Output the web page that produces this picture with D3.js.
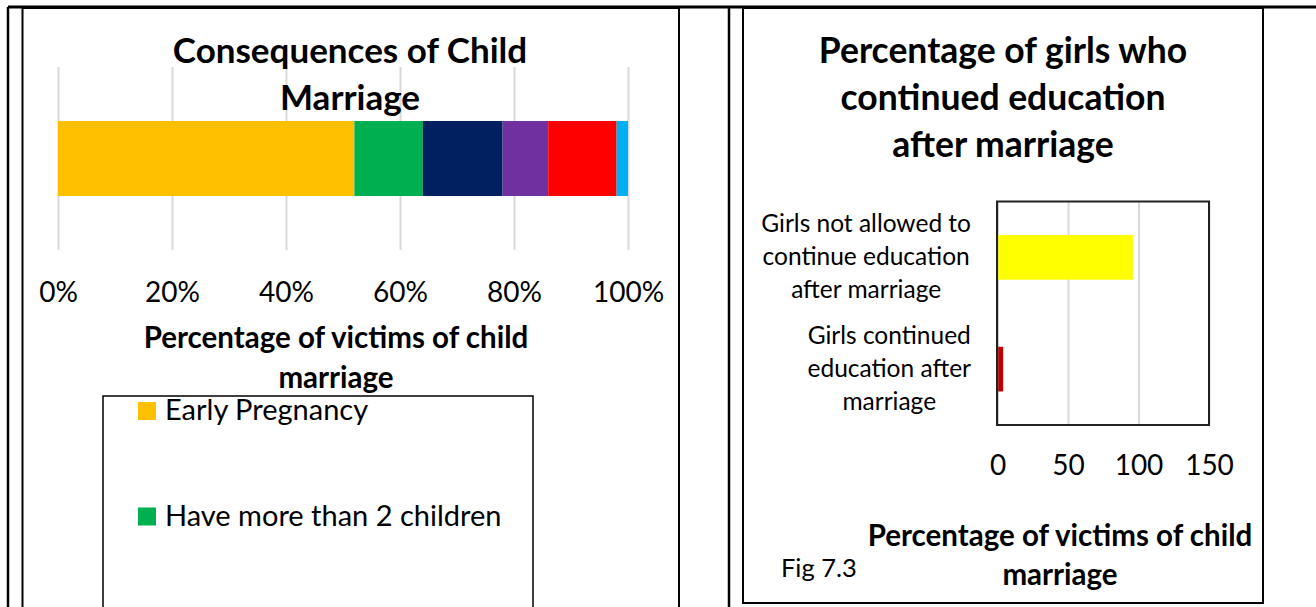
<!DOCTYPE html>
<html>
<head>
<meta charset="utf-8">
<script src="https://cdn.jsdelivr.net/npm/d3@7"></script>
<style>
  body { margin: 0; background: #fff; }
  svg { display: block; font-family: Lato, "Open Sans", sans-serif; }
</style>
</head>
<body>
<script>
// left chart: share of victims by consequence (stacked to 100%)
var consequenceNames = ["Early Pregnancy", "Have more than 2 children", null, null, null, null];
var consequenceShares = [52, 12, 14, 8, 12, 2];
var consequenceColors = ["#FFC000", "#00B050", "#002060", "#7030A0", "#FF0000", "#00B0F0"];
var pctTicks = [0, 0.2, 0.4, 0.6, 0.8, 1];

// right chart: girls continuing education after marriage
var eduCategories = [
  ["Girls not allowed to", "continue education", "after marriage"],
  ["Girls continued", "education after", "marriage"]
];
var eduValues = [96, 4];
var eduColors = ["#FFFF00", "#C00000"];
var eduTicks = [0, 50, 100, 150];

var W = 1316, H = 607;

var svg = d3.select("body").append("svg")
    .attr("width", W)
    .attr("height", H);

// ---- page frame / table lines ----
var frame = svg.append("g").attr("fill", "none").attr("stroke", "#000");
frame.append("line").attr("x1", 8).attr("x2", W).attr("y1", 7).attr("y2", 7).attr("stroke-width", 3);
frame.append("line").attr("x1", 8).attr("x2", 8).attr("y1", 7).attr("y2", H).attr("stroke-width", 2.5);
frame.append("line").attr("x1", 729).attr("x2", 729).attr("y1", 7).attr("y2", H).attr("stroke-width", 2.5);
frame.append("rect").attr("x", 22.5).attr("y", 8).attr("width", 656.5).attr("height", 700).attr("stroke-width", 2);
frame.append("rect").attr("x", 743).attr("y", 8).attr("width", 520).attr("height", 595).attr("stroke-width", 2);

// ================= LEFT CHART =================
var left = svg.append("g");

var xPct = d3.scaleLinear().domain([0, 1]).range([58, 628]);
var yOne = d3.scaleBand().domain(["all"]).range([67, 250]).paddingInner(0).paddingOuter(0.72);

var xAxisL = d3.axisBottom(xPct)
    .tickValues(pctTicks)
    .tickFormat(d3.format(".0%"))
    .tickSize(-183);

var gxl = left.append("g")
    .attr("transform", "translate(0,250)")
    .call(xAxisL);
gxl.select(".domain").remove();
gxl.selectAll(".tick line").attr("stroke", "#d9d9d9").attr("stroke-width", 2);
gxl.selectAll(".tick text")
    .attr("y", 52).attr("dy", 0)
    .attr("fill", "#000")
    .style("font-family", "Lato, sans-serif")
    .style("font-size", "28px");

// title drawn over the gridlines
left.selectAll(".title")
    .data(["Consequences of Child", "Marriage"])
  .enter().append("text")
    .attr("x", 350)
    .attr("y", function(d, i) { return 63 + i * 47; })
    .attr("text-anchor", "middle")
    .style("font-size", "35px")
    .style("font-weight", "bold")
    .text(function(d) { return d; });

// stacked segments
var stackRow = {};
consequenceShares.forEach(function(v, i) { stackRow["s" + i] = v / 100; });
var stacked = d3.stack().keys(consequenceShares.map(function(v, i) { return "s" + i; }))([stackRow]);

left.selectAll(".seg")
    .data(stacked)
  .enter().append("rect")
    .attr("x", function(d) { return xPct(d[0][0]); })
    .attr("width", function(d) { return xPct(d[0][1]) - xPct(d[0][0]); })
    .attr("y", yOne("all"))
    .attr("height", yOne.bandwidth())
    .attr("fill", function(d, i) { return consequenceColors[i]; });

left.selectAll(".axtitle")
    .data(["Percentage of victims of child", "marriage"])
  .enter().append("text")
    .attr("x", 336)
    .attr("y", function(d, i) { return 348 + i * 40; })
    .attr("text-anchor", "middle")
    .style("font-size", "29.5px")
    .style("font-weight", "bold")
    .text(function(d) { return d; });

// legend (only the first entries fit inside the picture)
left.append("rect")
    .attr("x", 103).attr("y", 396)
    .attr("width", 430).attr("height", 300)
    .attr("fill", "none").attr("stroke", "#000").attr("stroke-width", 1.5);

var legendItems = consequenceNames
    .map(function(n, i) { return {name: n, color: consequenceColors[i]}; })
    .filter(function(d) { return d.name; });

var leg = left.selectAll(".leg")
    .data(legendItems)
  .enter().append("g")
    .attr("transform", function(d, i) { return "translate(138," + (402 + i * 105.5) + ")"; });
leg.append("rect").attr("width", 18).attr("height", 18).attr("fill", function(d) { return d.color; });
leg.append("text")
    .attr("x", 27).attr("y", 18)
    .style("font-size", "29px")
    .text(function(d) { return d.name; });

// ================= RIGHT CHART =================
var right = svg.append("g");

right.selectAll(".title")
    .data(["Percentage of girls who", "continued education", "after marriage"])
  .enter().append("text")
    .attr("x", 1003)
    .attr("y", function(d, i) { return 63 + i * 47; })
    .attr("text-anchor", "middle")
    .style("font-size", "35.5px")
    .style("font-weight", "bold")
    .text(function(d) { return d; });

var xVal = d3.scaleLinear().domain([0, 150]).range([997.5, 1209]);
var yCat = d3.scaleBand().domain([0, 1]).range([201.5, 425]).paddingInner(0.6).paddingOuter(0.3);

var xAxisR = d3.axisBottom(xVal).tickValues(eduTicks).tickSize(-223.5);
var gxr = right.append("g")
    .attr("transform", "translate(0,425)")
    .call(xAxisR);
gxr.select(".domain").remove();
gxr.selectAll(".tick line").attr("stroke", "#d9d9d9").attr("stroke-width", 2);
gxr.selectAll(".tick text")
    .attr("y", 50).attr("dy", 0)
    .attr("fill", "#000")
    .style("font-family", "Lato, sans-serif")
    .style("font-size", "28px");

right.selectAll(".bar")
    .data(eduValues)
  .enter().append("rect")
    .attr("x", xVal(0))
    .attr("width", function(d) { return xVal(d) - xVal(0); })
    .attr("y", function(d, i) { return yCat(i); })
    .attr("height", yCat.bandwidth())
    .attr("fill", function(d, i) { return eduColors[i]; });

// category axis line and plot border
right.append("line")
    .attr("x1", xVal(0)).attr("x2", xVal(0))
    .attr("y1", 201.5).attr("y2", 425)
    .attr("stroke", "#a6a6a6").attr("stroke-width", 1.5);
right.append("rect")
    .attr("x", 997).attr("y", 201.5)
    .attr("width", 212).attr("height", 223.5)
    .attr("fill", "none").attr("stroke", "#222").attr("stroke-width", 2);

// category labels: each block centred on itself, right aligned to the axis
eduCategories.forEach(function(lines, i) {
  var g = right.append("g");
  var cy = yCat(i) + yCat.bandwidth() / 2;
  var t = g.selectAll("text")
      .data(lines)
    .enter().append("text")
      .attr("y", function(d, j) { return cy + 8 + (j - 1) * 33; })
      .attr("text-anchor", "middle")
      .style("font-size", "24.5px")
      .text(function(d) { return d; });
  var maxW = d3.max(t.nodes(), function(n) { return n.getComputedTextLength(); });
  t.attr("x", 971 - maxW / 2);
});

right.selectAll(".axtitle")
    .data(["Percentage of victims of child", "marriage"])
  .enter().append("text")
    .attr("x", 1060)
    .attr("y", function(d, i) { return 546 + i * 39; })
    .attr("text-anchor", "middle")
    .style("font-size", "29.5px")
    .style("font-weight", "bold")
    .text(function(d) { return d; });

right.append("text")
    .attr("x", 781).attr("y", 577)
    .style("font-size", "25.5px")
    .text("Fig 7.3");
</script>
</body>
</html>
